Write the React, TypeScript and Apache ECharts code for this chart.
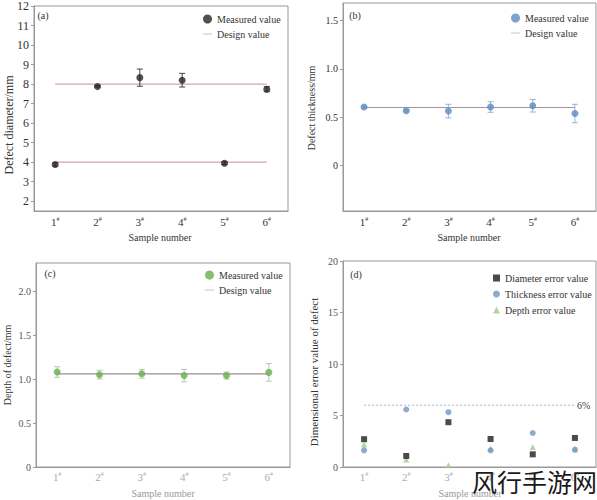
import React, { useEffect, useRef } from "react";
import * as echarts from "echarts";

const categories = ["1#", "2#", "3#", "4#", "5#", "6#"];

// (a) diameter
const measuredA = [3.88, 7.88, 8.33, 8.2, 3.95, 7.74];
const errA = [0.08, 0.04, 0.44, 0.35, 0.07, 0.13];
const designA = [8, 4];
// (b) thickness
const measuredB = [0.605, 0.566, 0.563, 0.605, 0.618, 0.538];
const errB = [0.012, 0.012, 0.07, 0.055, 0.065, 0.095];
const designB = 0.6;
// (c) depth
const measuredC = [1.08, 1.05, 1.06, 1.04, 1.04, 1.076];
const errC = [0.06, 0.05, 0.05, 0.07, 0.04, 0.1];
const designC = 1.06;
// (d) error values (%)
const diameterErr = [2.7, 1.07, 4.35, 2.72, 1.23, 2.82];
const thicknessErr = [1.62, 5.58, 5.32, 1.62, 3.3, 1.69];
const depthErr = [2.18, 0.72, 0.17, 1.79, 1.95, 1.69];
const threshold = 6;

const ticksA = [2, 3, 4, 5, 6, 7, 8, 9, 10, 11, 12];
const ticksB = [0, 0.5, 1.0, 1.5];
const ticksC = [0, 0.5, 1.0, 1.5, 2.0];

const SERIF = "Liberation Serif";
const LINE_ICON = "path://M0,0 L12,0 L12,1 L0,1 Z";
const LEGEND_LINE = "#d6a4a8";

function errData(m: number[], e: number[]) {
  return m.map((v, i) => [i, v - e[i], v + e[i]]);
}

function errSeries(idx: number, m: number[], e: number[], color: string) {
  return {
    type: "custom",
    xAxisIndex: idx,
    yAxisIndex: idx,
    z: 3,
    silent: true,
    encode: { x: 0, y: [1, 2] },
    data: errData(m, e),
    renderItem: (params: any, api: any) => {
      const x = api.value(0);
      const lo = api.coord([x, api.value(1)]);
      const hi = api.coord([x, api.value(2)]);
      const cap = 3;
      const style = { stroke: color, lineWidth: 1 };
      return {
        type: "group",
        children: [
          { type: "line", shape: { x1: lo[0], y1: lo[1], x2: hi[0], y2: hi[1] }, style },
          { type: "line", shape: { x1: hi[0] - cap, y1: hi[1], x2: hi[0] + cap, y2: hi[1] }, style },
          { type: "line", shape: { x1: lo[0] - cap, y1: lo[1], x2: lo[0] + cap, y2: lo[1] }, style },
        ],
      };
    },
  };
}

function xAxisCfg(gi: number, labelColor: string, margin: number) {
  return {
    type: "category",
    gridIndex: gi,
    data: categories,
    boundaryGap: true,
    axisLine: { onZero: false, lineStyle: { color: "#999" } },
    axisTick: { alignWithLabel: true, length: 3, lineStyle: { color: "#999" } },
    axisLabel: {
      interval: 0,
      margin,
      formatter: (v: string) => `{n|${v.replace("#", "")}}{s|#}`,
      rich: {
        n: { fontSize: 11, fontFamily: SERIF, color: labelColor },
        s: { fontSize: 6, fontFamily: SERIF, color: labelColor, verticalAlign: "top" },
      },
    },
    splitLine: { show: false },
  };
}

function yAxisCfg(gi: number, min: number, max: number, ticks: number[], fmt: (v: number) => string, color: string, fs: number) {
  return {
    type: "value",
    gridIndex: gi,
    min,
    max,
    axisLine: { show: true, lineStyle: { color: "#999" } },
    axisTick: { show: true, length: 3, customValues: ticks, lineStyle: { color: "#999" } },
    axisLabel: { customValues: ticks, formatter: fmt, fontSize: fs, fontFamily: SERIF, color, margin: 5 },
    splitLine: { show: false },
  };
}

const fmt1 = (v: number) => (v === 0 ? "0" : v.toFixed(1));

function legendCfg(left: number, top: number, names: any[], w = 9, h = 9, gap = 5) {
  return {
    left,
    top,
    orient: "vertical",
    itemWidth: w,
    itemHeight: h,
    itemGap: gap,
    symbolKeepAspect: true,
    data: names,
    formatter: (n: string) => n.split("|")[0],
    textStyle: { fontSize: 10, fontFamily: SERIF, color: "#333" },
    selectedMode: false,
  };
}

function designLegend(name: string) {
  return {
    name,
    icon: LINE_ICON,
    itemStyle: { color: LEGEND_LINE, borderColor: LEGEND_LINE },
    lineStyle: { color: LEGEND_LINE },
  };
}

function txt(text: string, x: number, y: number, fs: number, color: string, rotate = 0) {
  return {
    type: "text",
    x,
    y,
    rotation: rotate,
    style: { text, fontSize: fs, fontFamily: SERIF, fill: color, align: "center", verticalAlign: "middle" },
  };
}

export default function App() {
  const ref = useRef<HTMLDivElement>(null);
  useEffect(() => {
    if (!ref.current) return;
    const chart = echarts.init(ref.current, null, { renderer: "svg" });
    const lineA = "#d6a4a8";
    const lineB = "#a8939c";
    const lineC = "#9a9090";
    const option: any = {
      animation: false,
      grid: [
        { left: 34, top: 4, width: 254, height: 207, show: true, borderColor: "#999", borderWidth: 1 },
        { left: 343, top: 3, width: 253, height: 208, show: true, borderColor: "#999", borderWidth: 1 },
        { left: 36, top: 263, width: 254, height: 204, show: true, borderColor: "#999", borderWidth: 1 },
        { left: 343, top: 261, width: 253, height: 206, show: true, borderColor: "#999", borderWidth: 1 },
      ],
      xAxis: [
        xAxisCfg(0, "#333", 5),
        xAxisCfg(1, "#333", 5),
        xAxisCfg(2, "#aaa", 4),
        xAxisCfg(3, "#aaa", 4),
      ],
      yAxis: [
        yAxisCfg(0, 1.5, 12, ticksA, (v) => String(v), "#333", 12),
        yAxisCfg(1, -0.47, 1.68, ticksB, fmt1, "#333", 10),
        yAxisCfg(2, 0, 2.32, ticksC, fmt1, "#555", 10),
        { ...yAxisCfg(3, 0, 20, [0, 5, 10, 15, 20], (v) => String(v), "#555", 10), interval: 5 },
      ],
      legend: [
        legendCfg(198, 9, ["Measured value|a", designLegend("Design value|a")]),
        legendCfg(506, 8, ["Measured value|b", designLegend("Design value|b")]),
        legendCfg(200, 265, ["Measured value|c", designLegend("Design value|c")]),
        legendCfg(488, 268, ["Diameter error value|d", "Thickness error value|d", "Depth error value|d"], 7, 7, 6),
      ],
      series: [
        // (a)
        ...designA.map((d) => ({
          name: "Design value|a",
          type: "line",
          xAxisIndex: 0,
          yAxisIndex: 0,
          data: categories.map(() => d),
          symbol: "none",
          lineStyle: { color: lineA, width: 1.2 },
          itemStyle: { color: lineA },
          z: 2,
        })),
        errSeries(0, measuredA, errA, "#444"),
        {
          name: "Measured value|a",
          type: "scatter",
          xAxisIndex: 0,
          yAxisIndex: 0,
          data: measuredA,
          symbol: "circle",
          symbolSize: 7,
          itemStyle: { color: "#262626" },
          z: 4,
        },
        // (b)
        {
          name: "Design value|b",
          type: "line",
          xAxisIndex: 1,
          yAxisIndex: 1,
          data: categories.map(() => designB),
          symbol: "none",
          lineStyle: { color: lineB, width: 1.2 },
          itemStyle: { color: LEGEND_LINE },
          z: 2,
        },
        errSeries(1, measuredB, errB, "#9fb2cc"),
        {
          name: "Measured value|b",
          type: "scatter",
          xAxisIndex: 1,
          yAxisIndex: 1,
          data: measuredB,
          symbol: "circle",
          symbolSize: 7,
          itemStyle: { color: "#5b8cc2" },
          z: 4,
        },
        // (c)
        {
          name: "Design value|c",
          type: "line",
          xAxisIndex: 2,
          yAxisIndex: 2,
          data: categories.map(() => designC),
          symbol: "none",
          lineStyle: { color: lineC, width: 1.2 },
          itemStyle: { color: LEGEND_LINE },
          z: 2,
        },
        errSeries(2, measuredC, errC, "#b5cca8"),
        {
          name: "Measured value|c",
          type: "scatter",
          xAxisIndex: 2,
          yAxisIndex: 2,
          data: measuredC,
          symbol: "circle",
          symbolSize: 7,
          itemStyle: { color: "#66b04f" },
          z: 4,
        },
        // (d)
        {
          type: "line",
          xAxisIndex: 3,
          yAxisIndex: 3,
          data: categories.map(() => threshold),
          symbol: "none",
          silent: true,
          lineStyle: { color: "#a9b6c6", width: 1, type: [2, 2] },
          endLabel: {
            show: true,
            formatter: `${threshold}%`,
            fontSize: 10,
            fontFamily: SERIF,
            color: "#444",
            distance: 2,
          },
          z: 2,
        },
        {
          name: "Diameter error value|d",
          type: "scatter",
          xAxisIndex: 3,
          yAxisIndex: 3,
          data: diameterErr,
          symbol: "rect",
          symbolSize: 6,
          itemStyle: { color: "#1e1e1e" },
          z: 5,
        },
        {
          name: "Thickness error value|d",
          type: "scatter",
          xAxisIndex: 3,
          yAxisIndex: 3,
          data: thicknessErr,
          symbol: "circle",
          symbolSize: 6,
          itemStyle: { color: "#7095c4" },
          z: 4,
        },
        {
          name: "Depth error value|d",
          type: "scatter",
          xAxisIndex: 3,
          yAxisIndex: 3,
          data: depthErr,
          symbol: "triangle",
          symbolSize: 6,
          itemStyle: { color: "#9fcb8c" },
          z: 3,
        },
      ],
      graphic: [
        txt("(a)", 43, 15, 10, "#333"),
        txt("(b)", 355, 15, 10, "#333"),
        txt("(c)", 50, 273, 10, "#333"),
        txt("(d)", 356, 274, 10, "#333"),
        txt("Defect diameter/mm", 9, 125, 12, "#333", Math.PI / 2),
        txt("Defect thickness/mm", 311, 108, 10, "#333", Math.PI / 2),
        txt("Depth of defect/mm", 7, 365, 10, "#333", Math.PI / 2),
        txt("Dimensional error value of defect", 314, 372, 11, "#333", Math.PI / 2),
        txt("Sample number", 160, 237, 10, "#333"),
        txt("Sample number", 469, 237, 10, "#333"),
        txt("Sample number", 163, 493, 10, "#999"),
        txt("Sample number", 470, 493, 10, "#999"),
        {
          type: "text",
          x: 472,
          y: 468,
          z: 100,
          style: {
            text: "风行手游网",
            fontSize: 25,
            fontFamily: "Noto Sans CJK SC",
            fill: "#1a1a1a",
            align: "left",
            verticalAlign: "top",
          },
        },
      ],
    };
    chart.setOption(option);
    return () => chart.dispose();
  }, []);
  return (
    <div
      ref={ref}
      style={{ position: "absolute", left: 0, top: 0, width: 597, height: 500, background: "#fff" }}
    />
  );
}
